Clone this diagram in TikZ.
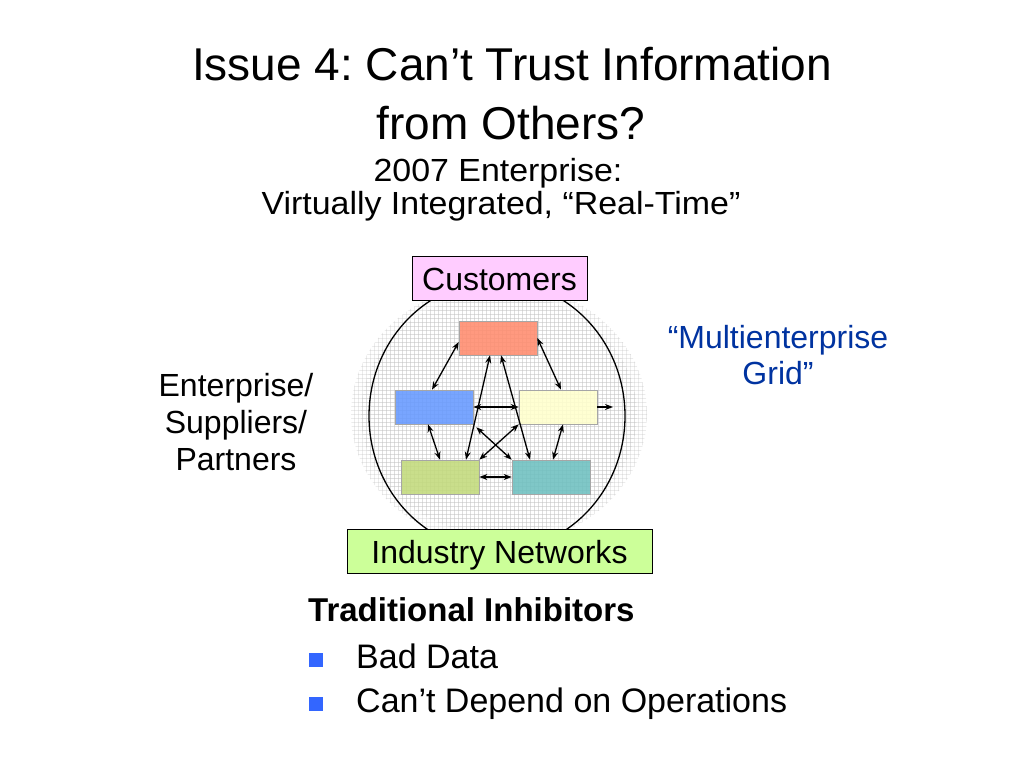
\documentclass[tikz,border=0pt]{standalone}
\usepackage{fontspec}
\setmainfont{Liberation Sans}
\usetikzlibrary{arrows.meta,calc}
\definecolor{salmonbox}{HTML}{FF8C6E}
\definecolor{bluebox}{HTML}{6699FF}
\definecolor{yellowbox}{HTML}{FFFFCC}
\definecolor{greenbox}{HTML}{C2DA7C}
\definecolor{tealbox}{HTML}{6EC0C0}
\definecolor{custfill}{HTML}{FFCCFF}
\definecolor{indfill}{HTML}{CCFF99}
\definecolor{gridblue}{HTML}{0033A0}
\definecolor{bulletblue}{HTML}{3366FF}
\tikzset{
  cbox/.style={draw=gray!70, line width=0.6pt, fill opacity=0.88, minimum width=78pt, minimum height=34pt, inner sep=0pt},
  labelbox/.style={draw=black, line width=1pt, inner sep=0pt, text height=24pt, text depth=0pt, font=\fontsize{32}{38}\selectfont},
  link/.style={line width=1.3pt, {Stealth[length=8pt,width=6pt]}-{Stealth[length=8pt,width=6pt]}},
  outlink/.style={line width=1.3pt, -{Stealth[length=8pt,width=6pt]}},
  gridline/.style={draw=gray!50, line width=0.6pt},
  txt/.style={inner sep=0pt, anchor=base},
  bullet/.style={fill=bulletblue, minimum size=14pt, inner sep=0pt}
}
\begin{document}
\frenchspacing
\begin{tikzpicture}[x=1pt,y=-1pt]
\useasboundingbox (0,0) rectangle (1024,768);
\fill[white] (0,0) rectangle (1024,768);

% title
\node[txt, font=\fontsize{46}{55}\selectfont] (t1) at (512,81) {Issue 4: Can’t Trust Information};
\node[txt, font=\fontsize{46}{55}\selectfont] (t2) at (511,139) {from Others?};
\node[txt, font=\fontsize{32}{38}\selectfont] (s1) at (498,181) {\scalebox{1.06}[1]{2007 Enterprise:}};
\node[txt, font=\fontsize{32}{38}\selectfont] (s2) at (501,214) {\scalebox{1.06}[1]{Virtually Integrated, “Real-Time”}};

% grid disk
\begin{scope}
  \clip (499,414) ellipse [x radius=148pt, y radius=131pt];
  \begin{scope}[opacity=0.3]
    \foreach \gx in {350,354,...,650} {\draw[gridline] (\gx,282) -- (\gx,548);}
    \foreach \gy in {282,286,...,548} {\draw[gridline] (350,\gy) -- (650,\gy);}
  \end{scope}
\end{scope}
\begin{scope}
  \clip (499,414) ellipse [x radius=138pt, y radius=121pt];
  \begin{scope}[opacity=0.28]
    \foreach \gx in {350,354,...,650} {\draw[gridline] (\gx,282) -- (\gx,548);}
    \foreach \gy in {282,286,...,548} {\draw[gridline] (350,\gy) -- (650,\gy);}
  \end{scope}
\end{scope}

% colored boxes
\node[cbox, fill=salmonbox] (red) at (498,338) {};
\node[cbox, fill=bluebox] (blue) at (434,407) {};
\node[cbox, fill=yellowbox] (yellow) at (558,407) {};
\node[cbox, fill=greenbox] (green) at (440,477) {};
\node[cbox, fill=tealbox] (teal) at (551,477) {};

% circle outline
\draw[line width=1.3pt] (497,416) ellipse [x radius=128pt, y radius=135pt];

% connectors
\coordinate (out) at (613,407);
\draw[link] ([yshift=-4pt]red.west) -- ([xshift=-2pt]blue.north);
\draw[link] (red.east) -- ([xshift=3pt]yellow.north);
\draw[link] ([xshift=-8pt]red.south) -- ([xshift=26pt]green.north);
\draw[link] ([xshift=3pt]red.south) -- ([xshift=-21pt]teal.north);
\draw[link] (blue.east) -- (yellow.west);
\draw[outlink] (yellow.east) -- (out);
\draw[link] ([xshift=-6pt]blue.south) -- (green.north);
\draw[link] ([xshift=5pt]yellow.south) -- ([xshift=2pt]teal.north);
\draw[link] ([xshift=3pt,yshift=-3pt]blue.south east) -- (teal.north west);
\draw[link] (yellow.south west) -- (green.north east);
\draw[link] (green.east) -- (teal.west);

% label boxes
\node[labelbox, fill=custfill, minimum width=175pt, minimum height=44pt] (cust) at (499.5,278) {Customers};
\node[labelbox, fill=indfill, minimum width=305pt, minimum height=44pt] (ind) at (499.5,551) {Industry Networks};

% side labels
\node[txt, font=\fontsize{32}{38}\selectfont] (e1) at (236,396) {Enterprise/};
\node[txt, font=\fontsize{32}{38}\selectfont] (e2) at (236,433) {Suppliers/};
\node[txt, font=\fontsize{32}{38}\selectfont] (e3) at (236,470) {Partners};
\node[txt, font=\fontsize{32}{38}\selectfont, text=gridblue] (m1) at (778,348) {“Multienterprise};
\node[txt, font=\fontsize{32}{38}\selectfont, text=gridblue] (m2) at (778,384) {Grid”};

% inhibitors
\node[inner sep=0pt, anchor=base west, font=\fontsize{33}{40}\selectfont\bfseries] (ti) at (308,621) {Traditional Inhibitors};
\node[bullet] (b1) at (316,659.5) {};
\node[bullet] (b2) at (316,704) {};
\node[inner sep=0pt, anchor=base west, font=\fontsize{34}{40}\selectfont] (l1) at (356,668) {Bad Data};
\node[inner sep=0pt, anchor=base west, font=\fontsize{34}{40}\selectfont] (l2) at (356,712) {Can’t Depend on Operations};
\end{tikzpicture}
\end{document}
